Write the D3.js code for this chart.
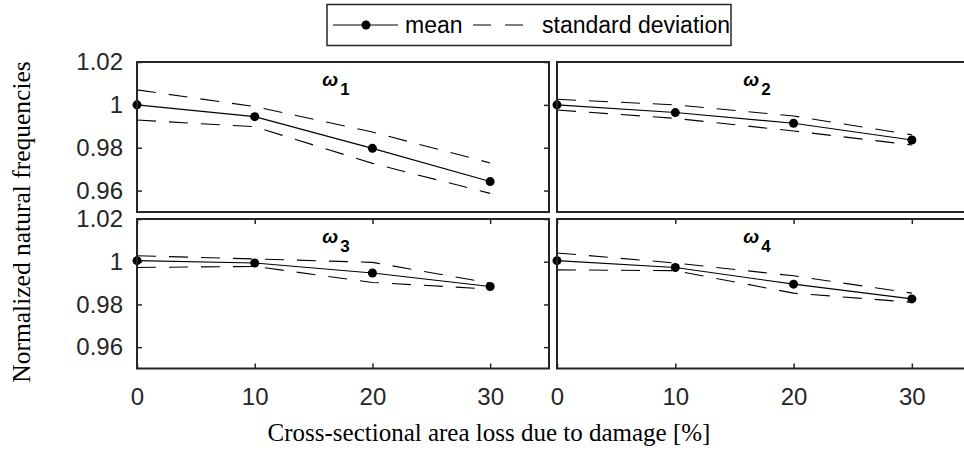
<!DOCTYPE html>
<html><head><meta charset="utf-8">
<script src="https://cdn.jsdelivr.net/npm/d3@7"></script>
<style>body{margin:0;background:#fff}svg{display:block}</style>
</head><body>
<svg id="chart" width="964" height="450"></svg>
<script>
// ---- data ----
const damage = [0, 10, 20, 30];
const xTicks = [0, 10, 20, 30];
const yTicks = [0.96, 0.98, 1, 1.02];
const titles = ["1", "2", "3", "4"];

const mean1  = [1.000, 0.9945, 0.9797, 0.9642];
const upper1 = [1.0070, 0.9992, 0.9873, 0.9729];
const lower1 = [0.9929, 0.9898, 0.9727, 0.9587];

const mean2  = [1.000, 0.9964, 0.9914, 0.9836];
const upper2 = [1.0026, 1.0000, 0.9948, 0.9860];
const lower2 = [0.9976, 0.9937, 0.9878, 0.9813];

const mean3  = [1.0005, 0.9994, 0.9947, 0.9884];
const upper3 = [1.0028, 1.0013, 0.9997, 0.9900];
const lower3 = [0.9973, 0.9978, 0.9903, 0.9872];

const mean4  = [1.0005, 0.9973, 0.9895, 0.9826];
const upper4 = [1.0041, 0.9994, 0.9934, 0.9853];
const lower4 = [0.9962, 0.9958, 0.9853, 0.9810];

const legendLabels = ["mean", "standard deviation"];
const xLabel = "Cross-sectional area loss due to damage [%]";
const yLabel = "Normalized natural frequencies";

// ---- layout ----
const svg = d3.select("#chart");
const axisColor = "#262626";
const sans = "'Liberation Sans', Arial, Helvetica, sans-serif";
const serif = "'Liberation Serif', 'Times New Roman', serif";

const cols = [{x0: 137, x1: 549}, {x0: 557, x1: 971}];
const rows = [{y0: 62, y1: 212}, {y0: 219, y1: 368.5}];

const panels = [
  {r: 0, c: 0, mean: mean1, upper: upper1, lower: lower1, t: titles[0]},
  {r: 0, c: 1, mean: mean2, upper: upper2, lower: lower2, t: titles[1]},
  {r: 1, c: 0, mean: mean3, upper: upper3, lower: lower3, t: titles[2]},
  {r: 1, c: 1, mean: mean4, upper: upper4, lower: lower4, t: titles[3]}
];

const fmt = d => String(+d.toFixed(2));

panels.forEach(p => {
  const C = cols[p.c], R = rows[p.r];
  const x = d3.scaleLinear().domain([0, 35]).range([C.x0, C.x1]);
  const y = d3.scaleLinear().domain([0.95, 1.02]).range([R.y1, R.y0]);
  const g = svg.append("g");

  const left = g.append("g").attr("transform", `translate(${C.x0},0)`)
    .call(d3.axisLeft(y).tickValues(p.c === 0 ? yTicks : []).tickSize(-5).tickPadding(14).tickFormat(fmt));
  const right = g.append("g").attr("transform", `translate(${C.x1},0)`)
    .call(d3.axisRight(y).tickValues(p.c === 0 ? yTicks : []).tickSize(-5).tickFormat(""));
  const bottom = g.append("g").attr("transform", `translate(0,${R.y1})`)
    .call(d3.axisBottom(x).tickValues(p.r === 1 ? xTicks : []).tickSize(-5).tickPadding(19).tickFormat(d3.format("d")));
  const top = g.append("g").attr("transform", `translate(0,${R.y0})`)
    .call(d3.axisTop(x).tickValues(p.r === 1 ? xTicks : []).tickSize(-5).tickFormat(""));

  [left, right, bottom, top].forEach(a => {
    a.select(".domain").remove();
    a.selectAll("line").attr("stroke", axisColor).attr("stroke-width", 1.5);
    a.selectAll("text").attr("fill", axisColor).style("font-family", sans).style("font-size", "24px");
  });

  const line = d3.line().x((d, i) => x(damage[i])).y(d => y(d));
  g.append("path").datum(p.upper).attr("d", line).attr("fill", "none")
    .attr("stroke", "#000").attr("stroke-width", 1.1).attr("stroke-dasharray", "19,13");
  g.append("path").datum(p.lower).attr("d", line).attr("fill", "none")
    .attr("stroke", "#000").attr("stroke-width", 1.1).attr("stroke-dasharray", "19,13");
  g.append("path").datum(p.mean).attr("d", line).attr("fill", "none")
    .attr("stroke", "#000").attr("stroke-width", 1.1);
  g.selectAll("circle").data(p.mean).join("circle")
    .attr("cx", (d, i) => x(damage[i])).attr("cy", d => y(d)).attr("r", 4.5).attr("fill", "#000");

  g.append("rect").attr("x", C.x0).attr("y", R.y0)
    .attr("width", C.x1 - C.x0).attr("height", R.y1 - R.y0)
    .attr("fill", "none").attr("stroke", axisColor).attr("stroke-width", 2);

  const tt = g.append("text").attr("x", (C.x0 + C.x1) / 2 - 7).attr("y", R.y0 + 24)
    .attr("text-anchor", "middle").style("font-family", sans).style("font-weight", "bold").attr("fill", "#000");
  tt.append("tspan").text("ω").style("font-style", "italic").style("font-size", "19px");
  tt.append("tspan").text(p.t).attr("dx", 2).attr("dy", 9).style("font-size", "17px");
});

// ---- legend ----
const lg = svg.append("g");
lg.append("rect").attr("x", 327).attr("y", 4.5).attr("width", 404).attr("height", 41)
  .attr("fill", "#fff").attr("stroke", axisColor).attr("stroke-width", 1.5);
lg.append("line").attr("x1", 333).attr("x2", 398).attr("y1", 25).attr("y2", 25)
  .attr("stroke", "#000").attr("stroke-width", 1.1);
lg.append("circle").attr("cx", 366).attr("cy", 25).attr("r", 4.5).attr("fill", "#000");
lg.append("text").attr("x", 405).attr("y", 33).text(legendLabels[0])
  .style("font-family", sans).style("font-size", "23px").attr("fill", "#000");
lg.append("line").attr("x1", 473).attr("x2", 525).attr("y1", 25).attr("y2", 25)
  .attr("stroke", "#000").attr("stroke-width", 1.1).attr("stroke-dasharray", "18,14");
lg.append("text").attr("x", 542).attr("y", 33).text(legendLabels[1])
  .style("font-family", sans).style("font-size", "23px").attr("fill", "#000");

// ---- axis labels ----
svg.append("text").attr("x", 489).attr("y", 441).attr("text-anchor", "middle")
  .text(xLabel).style("font-family", serif).style("font-size", "25px").attr("fill", "#000");
svg.append("text").attr("transform", "translate(30,222) rotate(-90)").attr("text-anchor", "middle")
  .text(yLabel).style("font-family", serif).style("font-size", "25.5px").attr("fill", "#000");
</script>
</body></html>
